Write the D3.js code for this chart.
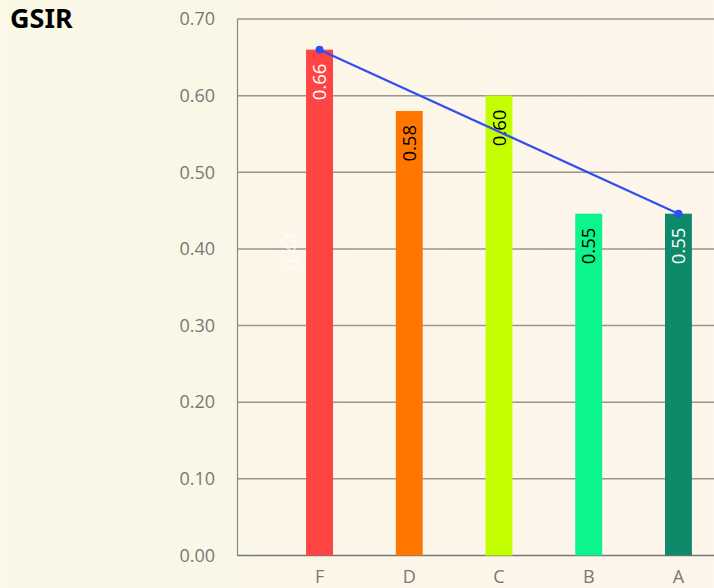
<!DOCTYPE html>
<html><head><meta charset="utf-8">
<script src="https://cdn.jsdelivr.net/npm/d3@7"></script>
<style>html,body{margin:0;padding:0;overflow:hidden;}svg{display:block;font-family:"Noto Sans","Open Sans",sans-serif;}</style>
</head><body>
<svg id="c" width="714" height="588"></svg>
<script>
const categories = ["F", "D", "C", "B", "A"];
const barValues = [0.66, 0.58, 0.60, 0.446, 0.446];
const barLabels = ["0.66", "0.58", "0.60", "0.55", "0.55"];
const barColors = ["#ff4444", "#ff7700", "#c4ff00", "#0cf58c", "#0e8a6a"];
const labelColors = ["#ffffff", "#000000", "#000000", "#000000", "#ffffff"];
const lineValues = [0.66, null, null, null, 0.446];
const faintLabel = {cat: "F", text: "0.44", value: 0.397};
const yTicks = [0, 0.1, 0.2, 0.3, 0.4, 0.5, 0.6, 0.7];
const title = "GSIR";

(function(){
const svg = d3.select("#c");
const W = 714, H = 588;
const defs = svg.append("defs");
const g0 = defs.append("linearGradient").attr("id","bg").attr("x1","0").attr("x2","1").attr("y1","0").attr("y2","0");
g0.append("stop").attr("offset","0").attr("stop-color","#faf8e6");
g0.append("stop").attr("offset","1").attr("stop-color","#fef5eb");
svg.append("rect").attr("width",W).attr("height",H).attr("fill","url(#bg)");

const mLeft = 237, mTop = 19, mBottom = 555.5;
const y = d3.scaleLinear().domain([0, 0.7]).range([mBottom, mTop]);
const x = d3.scaleBand().domain(categories).range([mLeft, 761]).paddingInner(0.7).paddingOuter(0.77);

svg.append("g").selectAll("line").data(yTicks.filter(t => t > 0)).join("line")
  .attr("x1", mLeft).attr("x2", W).attr("y1", d => y(d)).attr("y2", d => y(d))
  .attr("stroke", "#9a9590").attr("stroke-width", 1.5);

const yAxis = d3.axisLeft(y).tickValues(yTicks).tickFormat(d3.format(".2f")).tickSize(0).tickPadding(22);
const ya = svg.append("g").attr("transform", `translate(${mLeft},0)`).call(yAxis);
ya.select(".domain").attr("stroke", "#888").attr("stroke-width", 1.2);
ya.selectAll("text").attr("font-size", 18).attr("fill", "#787878").attr("font-family", '"Open Sans","Noto Sans",sans-serif');

const xAxis = d3.axisBottom(x).tickSize(0).tickPadding(15);
const xa = svg.append("g").attr("transform", `translate(0,${mBottom})`).call(xAxis);
xa.select(".domain").attr("d", `M${mLeft},0H${W}`).attr("stroke", "#777").attr("stroke-width", 1.5);
xa.selectAll("text").attr("font-size", 18).attr("fill", "#787878").attr("font-family", '"Open Sans","Noto Sans",sans-serif');

svg.append("g").selectAll("rect").data(categories).join("rect")
  .attr("x", d => x(d)).attr("width", x.bandwidth())
  .attr("y", (d,i) => y(barValues[i])).attr("height", (d,i) => mBottom - y(barValues[i]))
  .attr("fill", (d,i) => barColors[i]);

svg.append("g").selectAll("text").data(categories).join("text")
  .attr("transform", (d,i) => `translate(${x(d) + x.bandwidth()/2 + 6.5},${y(barValues[i]) + 14}) rotate(-90)`)
  .attr("text-anchor", "end").attr("font-size", 18.5).attr("font-family", '"Open Sans","Noto Sans",sans-serif')
  .attr("fill", (d,i) => labelColors[i])
  .text((d,i) => barLabels[i]);

svg.append("text")
  .attr("transform", `translate(${x(faintLabel.cat) - 8},${y(faintLabel.value)}) rotate(-90)`)
  .attr("text-anchor", "middle").attr("font-size", 18.5).attr("font-family", '"Open Sans","Noto Sans",sans-serif')
  .attr("fill", "#ffffff").attr("opacity", 0.85)
  .text(faintLabel.text);

const pts = categories.map((c,i) => ({c, v: lineValues[i]})).filter(d => d.v != null);
const line = d3.line().x(d => x(d.c) + x.bandwidth()/2).y(d => y(d.v));
svg.append("path").datum(pts).attr("d", line).attr("fill", "none").attr("stroke", "#2f4ff0").attr("stroke-width", 2.2);
svg.append("g").selectAll("circle").data(pts).join("circle")
  .attr("cx", d => x(d.c) + x.bandwidth()/2).attr("cy", d => y(d.v)).attr("r", 4).attr("fill", "#2f4ff0");

svg.append("text").attr("x", 10).attr("y", 28).attr("font-size", 27).attr("font-weight", "bold").attr("fill", "#000").text(title);
})();
</script>
</body></html>
